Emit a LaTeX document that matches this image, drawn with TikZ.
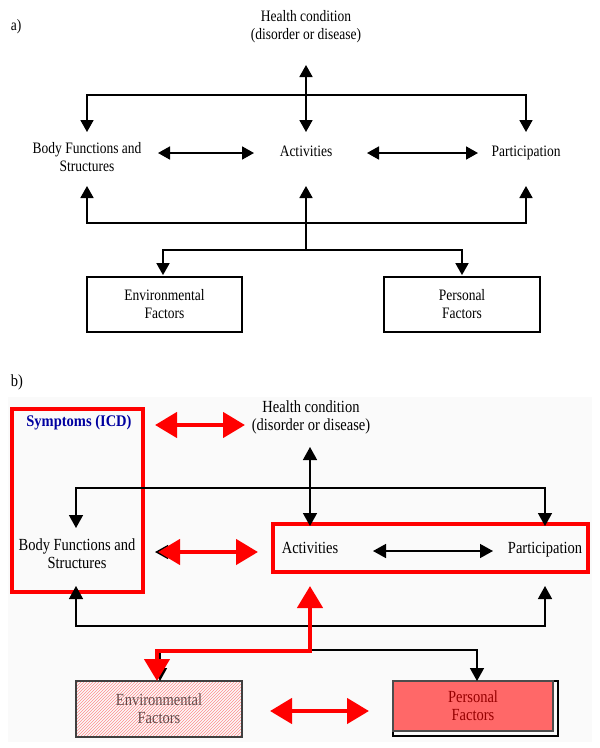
\documentclass[tikz,border=0pt]{standalone}
\usepackage{fontspec}
\setmainfont{Liberation Serif}
\usetikzlibrary{arrows.meta,patterns}
\definecolor{symblue}{RGB}{0,0,160}
\definecolor{envtext}{RGB}{100,72,72}
\definecolor{perstext}{RGB}{150,0,0}
\definecolor{persfill}{RGB}{255,104,104}
\definecolor{bggray}{RGB}{250,250,250}
\begin{document}
\begin{tikzpicture}[x=1pt,y=-1pt,
  lbla/.style={font=\fontsize{13.5}{15.2}\selectfont, align=center, inner sep=0pt, yscale=1.18},
  lblb/.style={font=\fontsize{14.5}{15.5}\selectfont, align=center, inner sep=0pt, yscale=1.17},
  boxa/.style={draw, line width=1.8pt, inner sep=0pt},
  lna/.style={line width=1.8pt},
  lnb/.style={line width=1.5pt},
  arra/.style={line width=1.8pt, -{Triangle[length=12pt,width=13pt]}},
  dbla/.style={line width=1.8pt, {Triangle[length=12pt,width=13pt]}-{Triangle[length=12pt,width=13pt]}},
  arrb/.style={line width=1.5pt, -{Triangle[length=13pt,width=14pt]}},
  dblb/.style={line width=1.5pt, {Triangle[length=13pt,width=14pt]}-{Triangle[length=13pt,width=14pt]}},
  reddbl/.style={red, line width=4.5pt, {Triangle[length=22pt,width=25pt]}-{Triangle[length=22pt,width=25pt]}},
  redbox/.style={draw=red, line width=4.5pt, inner sep=0pt},
]
\useasboundingbox (0,0) rectangle (600,748);

% ---------------- part a ----------------
\node[lbla] (aLab) at (16,27) {a)};
\node[lbla] (aHC) at (306,27) {Health condition\\(disorder or disease)};
\node[lbla] (aBF) at (87,157) {Body Functions and\\Structures};
\node[lbla] (aAct) at (306,151) {Activities};
\node[lbla] (aPart) at (526,153) {Participation};
\node[boxa, minimum width=155pt, minimum height=55pt] (aEnv) at (164.5,304.5) {};
\node[lbla] (aEnvT) at (aEnv) {Environmental\\Factors};
\node[boxa, minimum width=156pt, minimum height=55pt] (aPers) at (462,304.5) {};
\node[lbla] (aPersT) at (aPers) {Personal\\Factors};

\coordinate (aHCtip) at (306,65);
\coordinate (aTop) at (306,95);
\coordinate (aBFtop) at (87,132);
\coordinate (aActTop) at (306,132);
\coordinate (aPartTop) at (526,132);
\coordinate (aBot) at (306,223);
\coordinate (aBFbot) at (87,186);
\coordinate (aActBot) at (306,186);
\coordinate (aPartBot) at (526,186);
\coordinate (aJ) at (306,250);
\coordinate (aL1) at (158,153);
\coordinate (aL2) at (254,153);
\coordinate (aR1) at (367,153);
\coordinate (aR2) at (478,153);

\draw[dbla] (aHCtip) -- (aActTop);
\draw[arra] (aTop) -| (aBFtop);
\draw[arra] (aTop) -| (aPartTop);
\draw[dbla] (aL1) -- (aL2);
\draw[dbla] (aR1) -- (aR2);
\draw[arra] (aBot) -- (aActBot);
\draw[arra] (aBot) -| (aBFbot);
\draw[arra] (aBot) -| (aPartBot);
\draw[lna] (aBot) -- (aJ);
\draw[arra] (aJ) -| ([yshift=1pt]aEnv.north -| 163,0);
\draw[arra] (aJ) -| ([yshift=1pt]aPers.north);

% ---------------- part b ----------------
\fill[bggray] (8,397) rectangle (592,742);
\node[lblb] (bLab) at (17,382) {b)};
\node[redbox, minimum width=131pt, minimum height=183pt] (bSym) at (77.5,500.5) {};
\node[font=\fontsize{14.5}{17}\selectfont\bfseries, text=symblue, inner sep=0pt, yscale=1.12] (bSymT) at (79,423) {Symptoms (ICD)};
\node[lblb] (bHC) at (311,417) {Health condition\\(disorder or disease)};
\node[lblb] (bBF) at (77,554) {Body Functions and\\Structures};
\node[redbox, minimum width=315pt, minimum height=48pt] (bAP) at (430.5,548) {};
\node[lblb] (bAct) at (310,548) {Activities};
\node[lblb] (bPart) at (545,550) {Participation};

% environmental box (hatched)
\node[draw=black!75, line width=1.5pt, fill=white, pattern=north east lines, pattern color=red!45,
      minimum width=166pt, minimum height=56pt, inner sep=0pt] (bEnv) at (159,709) {};
\node[lblb, text=envtext] (bEnvT) at (bEnv) {Environmental\\Factors};
% personal box (shadowed, red)
\node[draw=black, line width=1.5pt, minimum width=165pt, minimum height=55pt, inner sep=0pt] (bPersO) at (475.5,708.5) {};
\node[draw=black!70, line width=1.2pt, fill=persfill, minimum width=160pt, minimum height=50pt, inner sep=0pt] (bPers) at (473,706) {};
\node[lblb, text=perstext] (bPersT) at (bPers) {Personal\\Factors};

\coordinate (bHCtip) at (310,447);
\coordinate (bTop) at (310,488);
\coordinate (bActTop) at (310,526);
\coordinate (bBFtop) at (76,528);
\coordinate (bPartTop) at (545,526);
\coordinate (bBot) at (310,626);
\coordinate (bBFbot) at (76,586);
\coordinate (bPartBot) at (545,586);
\coordinate (bActBot) at (310,586);
\coordinate (bJ) at (310,651);
\coordinate (bEnvTop) at (157,681);
\coordinate (bPersTop) at (477,681);
\coordinate (bAP1) at (373,551);
\coordinate (bAP2) at (493,551);
\coordinate (bS1) at (155,425);
\coordinate (bS2) at (245,425);
\coordinate (bM0) at (155,552);
\coordinate (bM0b) at (195,552);
\coordinate (bM1) at (158,552);
\coordinate (bM2) at (258,552);
\coordinate (bE1) at (270,711);
\coordinate (bE2) at (369,711);

\draw[dblb] (bHCtip) -- (bActTop);
\draw[arrb] (bTop) -| (bBFtop);
\draw[arrb] (bTop) -| (bPartTop);
\draw[dblb] (bAP1) -- (bAP2);
\draw[arrb] (bBot) -| (bBFbot);
\draw[arrb] (bBot) -| (bPartBot);
\draw[lnb] (bBot) -- (bJ);
\draw[arrb] ([yshift=1pt]bJ) -| ([xshift=3pt]bEnvTop);
\draw[arrb] ([yshift=1pt]bJ) -| (bPersTop);
\draw[arrb] (bM0b) -- (bM0);

\draw[reddbl] (bS1) -- (bS2);
\draw[reddbl] (bM1) -- (bM2);
\draw[reddbl] (bE1) -- (bE2);
\draw[reddbl, line join=miter] (bActBot) -- (bJ) -| (bEnvTop);
\end{tikzpicture}
\end{document}
